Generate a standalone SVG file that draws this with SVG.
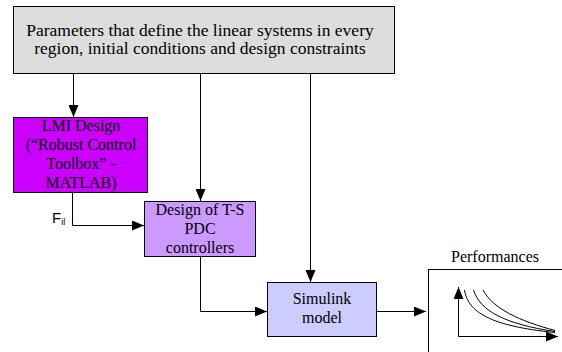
<svg xmlns="http://www.w3.org/2000/svg" width="562" height="352" viewBox="0 0 562 352">
<style>
.box{stroke:#000;stroke-width:1}
.t{font-family:"Liberation Serif","Times New Roman",serif;font-size:16px;fill:#000;text-anchor:middle}
.big{font-size:17.5px}
.c{fill:none;stroke:#000;stroke-width:1}
</style>
<defs>
<marker id="ah" markerWidth="12" markerHeight="10" refX="12" refY="5" orient="auto" markerUnits="userSpaceOnUse">
<path d="M0,0 L12,5 L0,10 Z" fill="#000"/>
</marker>
</defs>
<rect width="562" height="352" fill="#fff"/>
<g id="params">
<rect class="box" x="13.5" y="6.5" width="381" height="67" fill="#DDDDDD"/>
<text class="t big" x="200" y="36">Parameters that define the linear systems in every</text>
<text class="t big" x="200" y="54">region, initial conditions and design constraints</text>
</g>
<g id="lmi">
<rect class="box" x="13.5" y="117.5" width="134" height="75" fill="#CC00FF"/>
<text class="t" x="81" y="131">LMI Design</text>
<text class="t" x="81" y="150">(“Robust Control</text>
<text class="t" x="81" y="169">Toolbox” -</text>
<text class="t" x="81" y="188">MATLAB)</text>
</g>
<g id="design">
<rect class="box" x="144.5" y="201.5" width="111" height="55" fill="#CC99FF"/>
<text class="t" x="200" y="215">Design of T-S</text>
<text class="t" x="200" y="234">PDC</text>
<text class="t" x="200" y="253">controllers</text>
</g>
<g id="simulink">
<rect class="box" x="267.5" y="282.5" width="109" height="54" fill="#CCCCFF"/>
<text class="t" x="322" y="304">Simulink</text>
<text class="t" x="322" y="323">model</text>
</g>
<g id="performances">
<text class="t" x="495" y="262">Performances</text>
<rect class="box" x="428.5" y="269.5" width="160" height="120" fill="#fff"/>
<path class="c" d="M458.5,336.5 V287" marker-end="url(#ah)"/>
<path class="c" d="M458.5,336.5 H558" marker-end="url(#ah)"/>
<path class="c" d="M464.5,290 C468,312 490,326 555,332.5"/>
<path class="c" d="M473.5,290 C480,311 505,324 555,331.5"/>
<path class="c" d="M483,290 C493,309 520,321 555,330.5"/>
</g>
<g id="connectors">
<path class="c" d="M73.5,74 V117" marker-end="url(#ah)"/>
<path class="c" d="M200.5,74 V201" marker-end="url(#ah)"/>
<path class="c" d="M310.5,74 V282" marker-end="url(#ah)"/>
<path class="c" d="M72.5,193 V225.5 H144" marker-end="url(#ah)"/>
<path class="c" d="M200.5,257 V311.5 H267" marker-end="url(#ah)"/>
<path class="c" d="M377,311.5 H426" marker-end="url(#ah)"/>
<text x="52" y="223" font-family="'Liberation Sans',Arial,sans-serif" font-size="15">F<tspan font-size="9" dy="1.5">il</tspan></text>
</g>
</svg>
